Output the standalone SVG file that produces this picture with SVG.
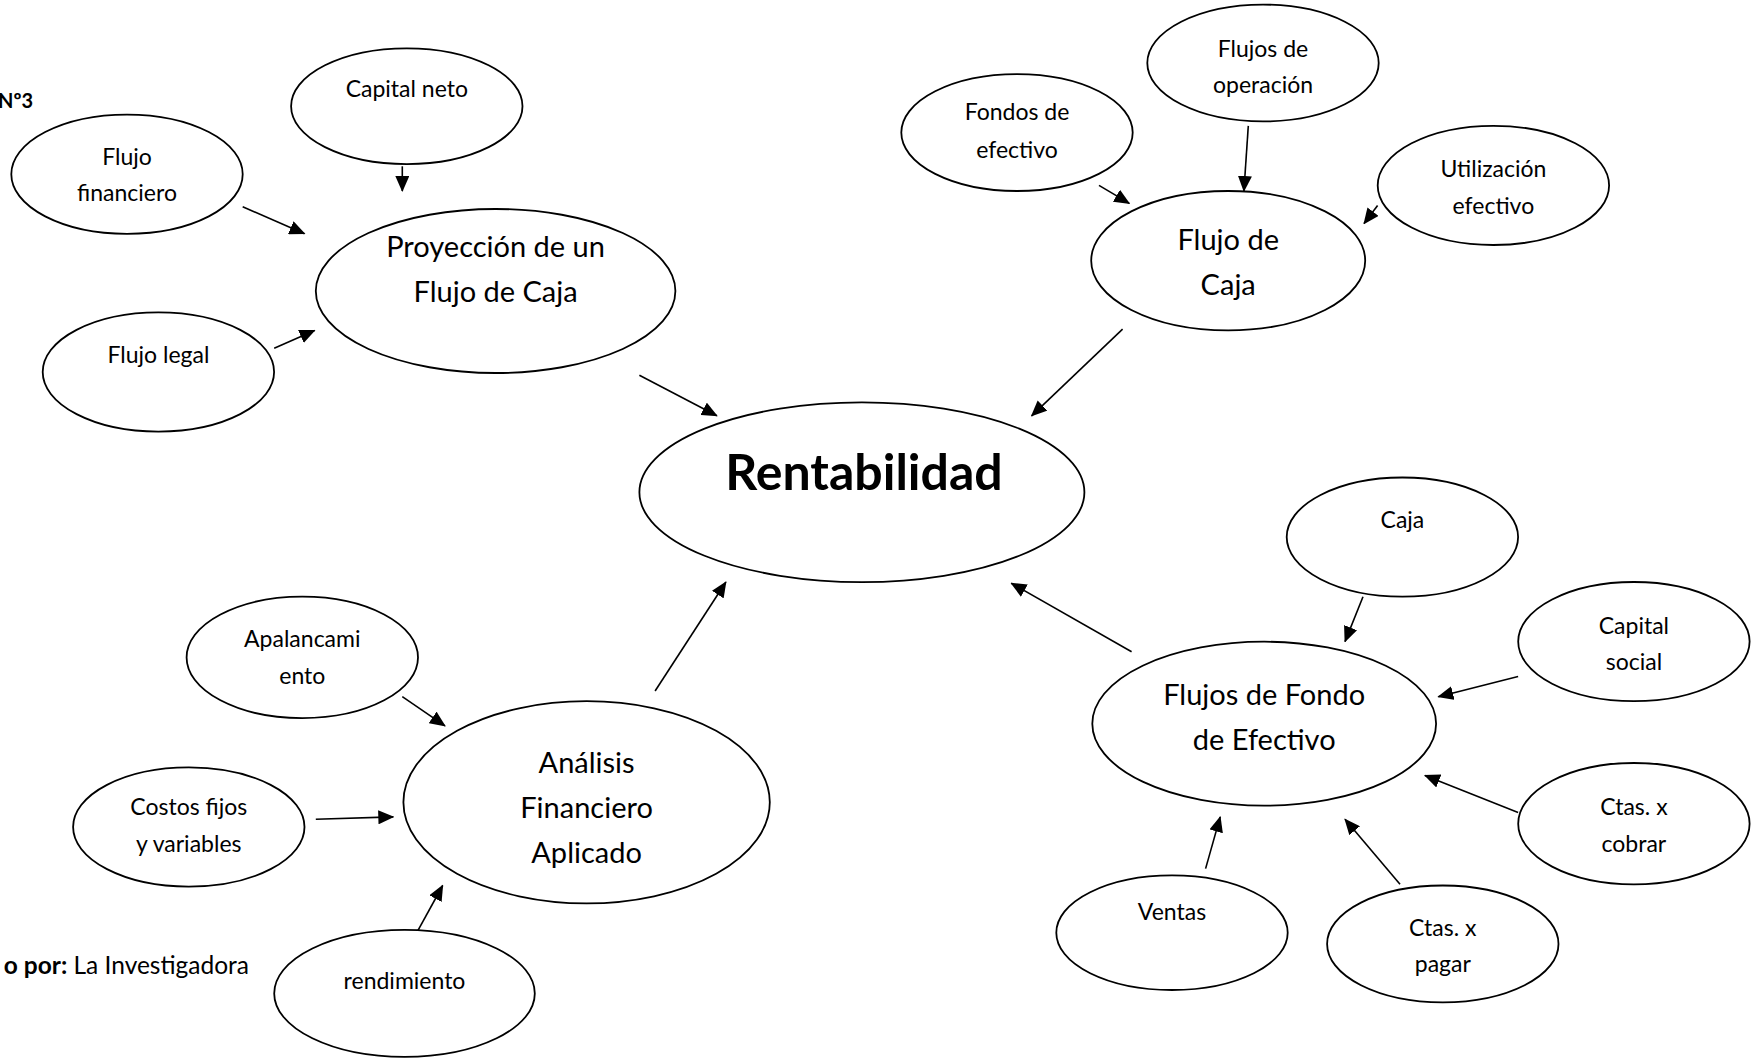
<svg xmlns="http://www.w3.org/2000/svg" width="1762" height="1058" viewBox="0 0 1762 1058">
<style>
.n ellipse{fill:#fff;stroke:#000;stroke-width:1.8}
text{font-family:Lato,"Liberation Sans",sans-serif;fill:#000;text-anchor:middle;dominant-baseline:central}
.s{font-size:23px}
.m{font-size:29px}
.b{font-size:50px;font-weight:bold}
.e line{stroke:#000;stroke-width:1.6;marker-end:url(#ah)}
</style>
<defs>
<marker id="ah" markerUnits="userSpaceOnUse" markerWidth="16" markerHeight="14" refX="15" refY="7" orient="auto">
<path d="M0,0 L16,7 L0,14 Z" fill="#000"/>
</marker>
</defs>
<rect width="1762" height="1058" fill="#fff"/>
<text x="33" y="100" style="font-size:20px;font-weight:bold;text-anchor:end">Nº3</text>
<text x="249" y="964" style="font-size:24.5px;text-anchor:end"><tspan font-weight="bold">o por:</tspan> La Investigadora</text>
<g class="e">
<line x1="402.3" y1="166.3" x2="402.3" y2="191"/>
<line x1="242.7" y1="206.8" x2="304.5" y2="233.7"/>
<line x1="274.2" y1="348.3" x2="314.6" y2="330.4"/>
<line x1="639.4" y1="375.3" x2="716.9" y2="415.8"/>
<line x1="1099" y1="185.4" x2="1129.3" y2="203.4"/>
<line x1="1248.3" y1="125.9" x2="1243.9" y2="191"/>
<line x1="1377.6" y1="205.6" x2="1364" y2="223.6"/>
<line x1="1122.6" y1="329.2" x2="1031.6" y2="415.8"/>
<line x1="1131.6" y1="651.7" x2="1011.3" y2="583.2"/>
<line x1="1363" y1="596.7" x2="1345" y2="641.6"/>
<line x1="1518.1" y1="676.5" x2="1438.3" y2="696.7"/>
<line x1="1518.1" y1="812.4" x2="1424.9" y2="775.4"/>
<line x1="1205.6" y1="868.6" x2="1220.2" y2="816.9"/>
<line x1="1400" y1="884.3" x2="1345" y2="819.2"/>
<line x1="655.1" y1="691" x2="725.9" y2="582"/>
<line x1="402.3" y1="696.7" x2="445" y2="725.9"/>
<line x1="315.8" y1="819.2" x2="393.3" y2="816.9"/>
<line x1="418" y1="930.4" x2="442.7" y2="885.5"/>
</g>
<g id="capital-neto" class="n"><ellipse cx="406.8" cy="106.2" rx="115.7" ry="57.9"/><text class="s" x="406.8" y="88">Capital neto</text></g>
<g id="flujo-financiero" class="n"><ellipse cx="127" cy="174.2" rx="115.7" ry="59.6"/><text class="s" x="127" y="156">Flujo</text><text class="s" x="127" y="192">financiero</text></g>
<g id="flujo-legal" class="n"><ellipse cx="158.4" cy="372" rx="115.7" ry="59.6"/><text class="s" x="158.4" y="354">Flujo legal</text></g>
<g id="proyeccion" class="n"><ellipse cx="495.6" cy="291" rx="179.8" ry="82"/><text class="m" x="495.6" y="245">Proyección de un</text><text class="m" x="495.6" y="290">Flujo de Caja</text></g>
<g id="fondos-efectivo" class="n"><ellipse cx="1017" cy="132.6" rx="115.7" ry="58.4"/><text class="s" x="1017" y="111">Fondos de</text><text class="s" x="1017" y="148.5">efectivo</text></g>
<g id="flujos-operacion" class="n"><ellipse cx="1263" cy="63" rx="115.7" ry="58.4"/><text class="s" x="1263" y="48">Flujos de</text><text class="s" x="1263" y="84">operación</text></g>
<g id="utilizacion" class="n"><ellipse cx="1493.4" cy="185.4" rx="115.7" ry="59.6"/><text class="s" x="1493.4" y="167.5">Utilización</text><text class="s" x="1493.4" y="204.6">efectivo</text></g>
<g id="flujo-caja" class="n"><ellipse cx="1228.2" cy="260.7" rx="137" ry="69.7"/><text class="m" x="1228.2" y="238">Flujo de</text><text class="m" x="1228.2" y="283">Caja</text></g>
<g id="rentabilidad" class="n"><ellipse cx="861.9" cy="492.2" rx="222.5" ry="89.9"/><text class="b" x="864" y="471">Rentabilidad</text></g>
<g id="caja" class="n"><ellipse cx="1402.4" cy="537.1" rx="115.7" ry="59.6"/><text class="s" x="1402.4" y="519">Caja</text></g>
<g id="capital-social" class="n"><ellipse cx="1633.9" cy="641.6" rx="115.7" ry="59.6"/><text class="s" x="1633.9" y="625">Capital</text><text class="s" x="1633.9" y="661">social</text></g>
<g id="flujos-fondo" class="n"><ellipse cx="1264.2" cy="723.7" rx="171.9" ry="82"/><text class="m" x="1264.2" y="693">Flujos de Fondo</text><text class="m" x="1264.2" y="738">de Efectivo</text></g>
<g id="ctas-cobrar" class="n"><ellipse cx="1633.9" cy="823.7" rx="115.7" ry="60.7"/><text class="s" x="1633.9" y="806">Ctas. x</text><text class="s" x="1633.9" y="843">cobrar</text></g>
<g id="ventas" class="n"><ellipse cx="1172" cy="932.7" rx="115.7" ry="57.3"/><text class="s" x="1172" y="911">Ventas</text></g>
<g id="ctas-pagar" class="n"><ellipse cx="1442.8" cy="943.9" rx="115.7" ry="58.4"/><text class="s" x="1442.8" y="927">Ctas. x</text><text class="s" x="1442.8" y="963">pagar</text></g>
<g id="apalancamiento" class="n"><ellipse cx="302.3" cy="657.4" rx="115.7" ry="60.7"/><text class="s" x="302.3" y="638">Apalancami</text><text class="s" x="302.3" y="675">ento</text></g>
<g id="costos" class="n"><ellipse cx="188.8" cy="827" rx="115.7" ry="59.6"/><text class="s" x="188.8" y="806">Costos fijos</text><text class="s" x="188.8" y="843">y variables</text></g>
<g id="analisis" class="n"><ellipse cx="586.6" cy="802.3" rx="183.2" ry="101.1"/><text class="m" x="586.6" y="761">Análisis</text><text class="m" x="586.6" y="806">Financiero</text><text class="m" x="586.6" y="851">Aplicado</text></g>
<g id="rendimiento" class="n"><ellipse cx="404.5" cy="993.4" rx="130.3" ry="63.5"/><text class="s" x="404.5" y="980">rendimiento</text></g>
</svg>
